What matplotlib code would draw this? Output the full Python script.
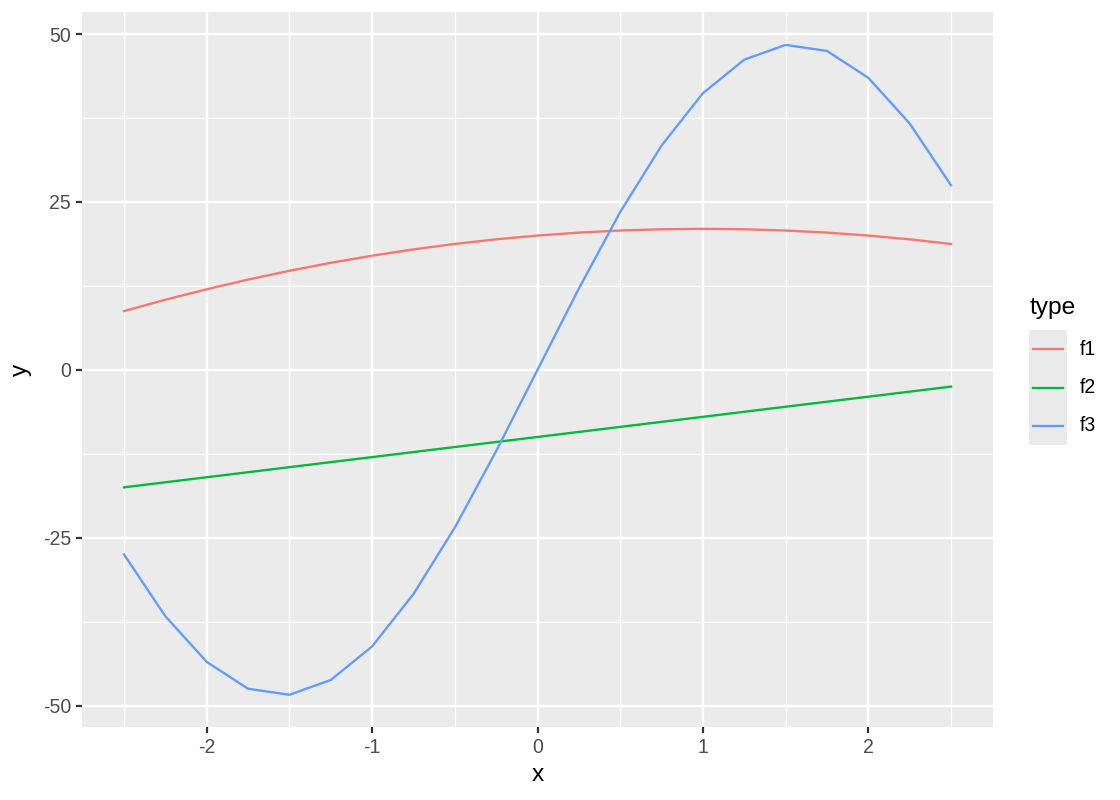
import matplotlib
matplotlib.use("Agg")
import matplotlib.pyplot as plt
from matplotlib.lines import Line2D

plt.rcParams['font.family'] = ['Liberation Sans', 'DejaVu Sans']
plt.rcParams['axes.unicode_minus'] = False

x = [-2.5, -2.25, -2.0, -1.75, -1.5, -1.25, -1.0, -0.75, -0.5, -0.25, 0.0,
     0.25, 0.5, 0.75, 1.0, 1.25, 1.5, 1.75, 2.0, 2.25, 2.5]
f1 = [8.75, 10.44, 12.0, 13.44, 14.75, 15.94, 17.0, 17.94, 18.75, 19.44, 20.0,
      20.44, 20.75, 20.94, 21.0, 20.94, 20.75, 20.44, 20.0, 19.44, 18.75]
f2 = [-17.5, -16.75, -16.0, -15.25, -14.5, -13.75, -13.0, -12.25, -11.5, -10.75, -10.0,
      -9.25, -8.5, -7.75, -7.0, -6.25, -5.5, -4.75, -4.0, -3.25, -2.5]
f3 = [-27.5, -36.7, -43.5, -47.5, -48.4, -46.2, -41.2, -33.4, -23.5, -12.1, 0.0,
      12.1, 23.5, 33.4, 41.2, 46.2, 48.4, 47.5, 43.5, 36.7, 27.5]
series_names = ["f1", "f2", "f3"]
series_values = [f1, f2, f3]
colors = ["#F8766D", "#00BA38", "#619CFF"]
xticks = [-2, -1, 0, 1, 2]
yticks = [-50, -25, 0, 25, 50]

W, H = 1120, 800
fig = plt.figure(figsize=(7, 5), dpi=160)
ax = fig.add_axes([82 / W, (H - 727) / H, (993 - 82) / W, (727 - 12) / H])
ax.set_facecolor("#EBEBEB")
for s in ax.spines.values():
    s.set_visible(False)

ax.set_xlim(-2.754, 2.754)
ax.set_ylim(-53.2, 53.3)
ax.set_xticks(xticks)
ax.set_xticklabels([str(t) for t in xticks])
ax.set_yticks(yticks)
ax.set_yticklabels([str(t) for t in yticks])
ax.set_xticks([-2.5, -1.5, -0.5, 0.5, 1.5, 2.5], minor=True)
ax.set_yticks([-37.5, -12.5, 12.5, 37.5], minor=True)
ax.grid(which="major", color="white", linewidth=1.1)
ax.grid(which="minor", color="white", linewidth=0.55)
ax.set_axisbelow(True)
ax.tick_params(which="major", length=2.75, width=1.0, color="#333333",
               labelsize=8.8, labelcolor="#4D4D4D", pad=2.2)
ax.tick_params(which="minor", length=0)

for name, vals, c in zip(series_names, series_values, colors):
    ax.plot(x, vals, color=c, linewidth=1.05, label=name)

ax.set_xlabel("x", fontsize=11, labelpad=3)
ax.set_ylabel("y", fontsize=11, labelpad=5)

# legend
lax = fig.add_axes([1029 / W, (H - 445) / H, 38 / W, 115 / H])
lax.set_facecolor("#EBEBEB")
for s in lax.spines.values():
    s.set_visible(False)
lax.set_xticks([])
lax.set_yticks([])
lax.set_xlim(0, 1)
lax.set_ylim(0, 3)
for i, (name, c) in enumerate(zip(series_names, colors)):
    yy = 2.5 - i
    lax.add_line(Line2D([0.1, 0.9], [yy, yy], color=c, linewidth=1.05))
    fig.text(1080 / W, 1 - (330 + 115 / 3 * (i + 0.5)) / H, name,
             fontsize=8.8, va="center", ha="left", color="black")
fig.text(1030 / W, 1 - 308 / H, "type", fontsize=11, va="center", ha="left")

fig.savefig("out.png", dpi=160)
